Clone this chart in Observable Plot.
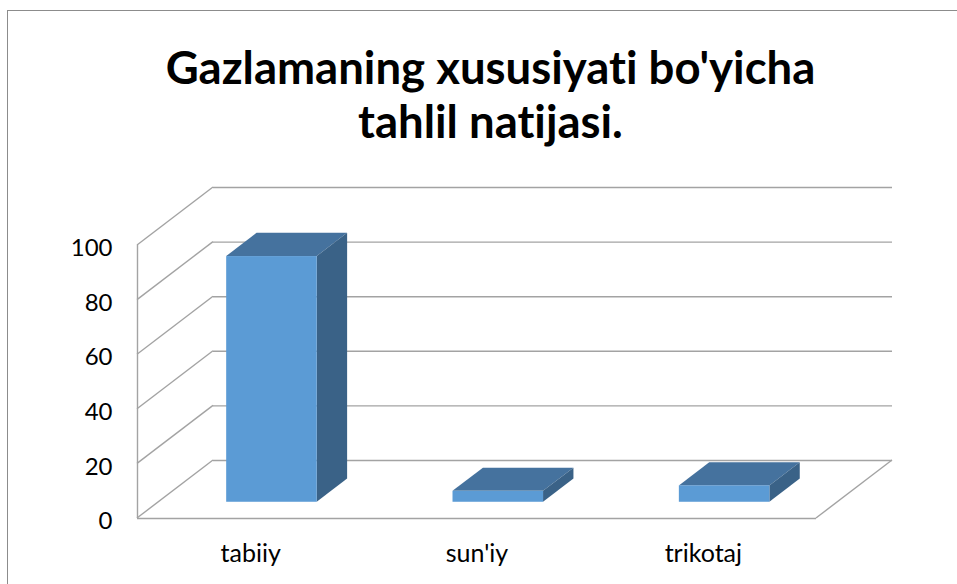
<!DOCTYPE html>
<html>
<head>
<meta charset="utf-8">
<script src="https://cdn.jsdelivr.net/npm/d3@7"></script>
<script src="https://cdn.jsdelivr.net/npm/@observablehq/plot@0.6"></script>
<style>
  html, body { margin: 0; padding: 0; background: #fff; }
  #wrap { position: relative; width: 957px; height: 584px; overflow: hidden; font-family: Lato, "Open Sans", sans-serif; font-variant-ligatures: none; }
  #frame { position: absolute; left: 7px; top: 10px; width: 1000px; height: 700px; border-left: 1.5px solid #8c8c8c; border-top: 1.5px solid #8c8c8c; }
  #title { position: absolute; left: 12px; top: 40px; width: 957px; text-align: center; font-weight: 700; font-size: 45.5px; line-height: 54px; color: #000; font-variant-ligatures: none; }
  #chart { position: absolute; left: 0; top: 170px; }
  #chart svg text { font-variant-ligatures: none; }
</style>
</head>
<body>
<div id="wrap">
  <div id="frame"></div>
  <div id="title">Gazlamaning xususiyati bo'yicha<br>tahlil natijasi.</div>
  <div id="chart"></div>
</div>
<script>
const categories = ["tabiiy", "sun'iy", "trikotaj"];
const values = [90, 4, 6];
const yTicks = [0, 20, 40, 60, 80, 100];

// 3D styling (pixels)
const DX = 76, DY = -58;       // full depth of the floor/walls
const F0 = 0.28;               // depth where bar fronts sit
const FB = 0.4;                // bar depth fraction
const BW = 0.4;                // bar width as fraction of slot
const gridColor = "#a3a3a3";
const frontColor = "#5b9bd5", topColor = "#45729e", sideColor = "#3a6287";

const data = categories.map((c, i) => ({i, c, v: values[i]}));

function leftWallAndFloor(index, {x, y}) {
  const g = d3.create("svg:g").attr("stroke", gridColor).attr("stroke-width", 1.4).attr("fill", "none");
  for (const t of yTicks) {
    g.append("line").attr("x1", x(-0.5)).attr("y1", y(t)).attr("x2", x(-0.5) + DX).attr("y2", y(t) + DY);
  }
  g.append("line").attr("x1", x(2.5)).attr("y1", y(0)).attr("x2", x(2.5) + DX).attr("y2", y(0) + DY);
  return g.node();
}

function barFaces(index, {x, y}) {
  const g = d3.create("svg:g");
  const bdx = FB * DX, bdy = FB * DY;
  for (const d of data) {
    const L = x(d.i - BW / 2) + F0 * DX;
    const R = x(d.i + BW / 2) + F0 * DX;
    const T = y(d.v) + F0 * DY;
    const B = y(0) + F0 * DY;
    g.append("path").attr("fill", topColor)
      .attr("d", `M${L},${T}L${R},${T}L${R + bdx},${T + bdy}L${L + bdx},${T + bdy}Z`);
    g.append("path").attr("fill", sideColor)
      .attr("d", `M${R},${T}L${R + bdx},${T + bdy}L${R + bdx},${B + bdy}L${R},${B}Z`);
  }
  return g.node();
}

const plot = Plot.plot({
  width: 957,
  height: 414,
  marginLeft: 137,
  marginRight: 141,
  marginTop: 75,
  marginBottom: 66,
  style: {fontFamily: "Lato, 'Open Sans', sans-serif", background: "transparent", overflow: "visible"},
  x: {domain: [-0.5, 2.5], axis: null, label: null},
  y: {domain: [0, 100], axis: null, label: null},
  marks: [
    Plot.ruleY(yTicks, {x1: -0.5, x2: 2.5, dx: DX, dy: DY, stroke: gridColor, strokeWidth: 1.4}),
    Plot.ruleY([0], {x1: -0.5, x2: 2.5, stroke: gridColor, strokeWidth: 1.4}),
    Plot.ruleX([-0.5], {y1: 0, y2: 100, stroke: gridColor, strokeWidth: 1.4}),
    leftWallAndFloor,
    barFaces,
    Plot.rectY(data, {x1: d => d.i - BW / 2, x2: d => d.i + BW / 2, y1: 0, y2: "v", dx: F0 * DX, dy: F0 * DY, fill: frontColor, inset: 0}),
    Plot.axisY(yTicks, {tickSize: 0, tickPadding: 25, fontSize: 24, fill: "#000", dy: 3, x: -0.5, label: null}),
    Plot.axisX([0, 1, 2], {tickSize: 0, tickPadding: 26, fontSize: 25, fill: "#000", label: null, tickFormat: i => categories[i]})
  ]
});
document.getElementById("chart").appendChild(plot);
</script>
</body>
</html>
